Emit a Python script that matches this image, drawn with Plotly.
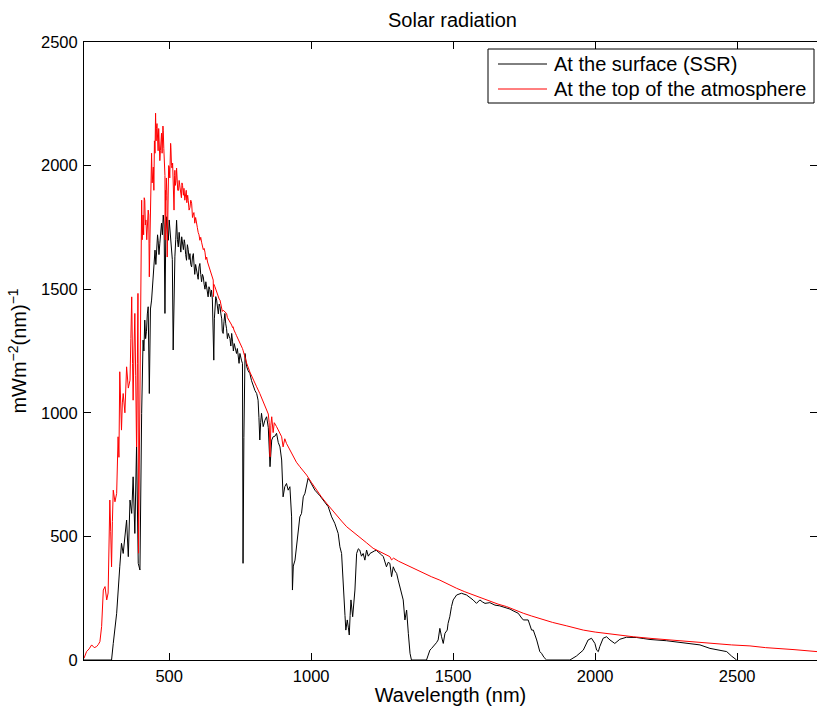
import plotly.graph_objects as go

# Surface solar radiation (SSR) spectrum, wavelength in nm
wl_surface = [200, 297, 303, 315, 326, 332, 338, 344, 350, 356, 362, 368, 373, 379, 385, 391, 397,
              403, 406, 408, 411, 414, 417, 420, 423, 426, 430, 432, 434, 438, 441, 444, 447, 450,
              453, 456, 459, 461, 464, 467, 470, 473, 476, 479, 482, 485, 488, 491, 494, 497, 500,
              502, 505, 508, 511, 514, 517, 520, 523, 526, 529, 532, 535, 538, 541, 544, 547, 550,
              553, 555, 558, 561, 564, 567, 570, 573, 576, 579, 582, 585, 588, 590, 593, 596, 599,
              602, 605, 608, 611, 614, 617, 620, 623, 626, 629, 632, 635, 637, 640, 643, 646, 649,
              652, 655, 657, 659, 661, 664, 667, 670, 673, 676, 679, 682, 685, 687, 690, 693, 696,
              699, 702, 705, 708, 711, 714, 717, 720, 723, 726, 729, 731, 734, 737, 740, 743, 746,
              749, 752, 755, 758, 760, 763, 767, 770, 773, 778, 784, 790, 796, 802, 808, 813, 816,
              819, 822, 825, 831, 837, 843, 849, 855, 858, 861, 866, 872, 878, 884, 890, 896, 901,
              907, 913, 919, 925, 931, 934, 937, 943, 949, 954, 960, 966, 972, 978, 984, 989, 995,
              1001, 1013, 1031, 1048, 1060, 1072, 1083, 1095, 1101, 1107, 1111, 1115, 1119, 1122,
              1127, 1131, 1134, 1137, 1140, 1146, 1150, 1154, 1160, 1166, 1171, 1177, 1183, 1189,
              1195, 1201, 1207, 1213, 1218, 1224, 1230, 1236, 1242, 1248, 1254, 1260, 1265, 1271,
              1277, 1283, 1289, 1295, 1301, 1307, 1312, 1318, 1324, 1330, 1336, 1342, 1348, 1353,
              1406, 1412, 1418, 1424, 1430, 1441, 1447, 1453, 1459, 1465, 1471, 1479, 1482, 1488,
              1494, 1500, 1512, 1529, 1547, 1558, 1570, 1582, 1594, 1603, 1612, 1629, 1647, 1664,
              1688, 1700, 1711, 1729, 1741, 1747, 1764, 1776, 1782, 1794, 1805, 1811, 1820, 1829,
              1911, 1934, 1958, 1975, 1987, 1999, 2005, 2011, 2016, 2028, 2040, 2052, 2069, 2087,
              2110, 2146, 2169, 2193, 2251, 2310, 2369, 2404, 2439, 2463, 2480, 2498]
ssr = [0, 0, 67, 189, 377, 472, 431, 512, 566, 418, 647, 593, 741, 512, 862, 391, 364,
       998, 1180, 1294, 1250, 1375, 1300, 1330, 1400, 1429, 1078, 1300, 1420, 1456, 1520, 1560, 1610, 1658,
       1600, 1671, 1720, 1698, 1640, 1686, 1740, 1767, 1720, 1800, 1760, 1402, 1720, 1793, 1740, 1698, 1780,
       1752, 1700, 1680, 1620, 1254, 1560, 1631, 1700, 1779, 1700, 1671, 1730, 1700, 1650, 1712, 1690, 1660,
       1700, 1686, 1640, 1617, 1680, 1660, 1620, 1644, 1600, 1590, 1630, 1644, 1590, 1560, 1600, 1577, 1550,
       1540, 1590, 1604, 1560, 1530, 1560, 1550, 1520, 1500, 1530, 1510, 1480, 1469, 1510, 1500, 1470, 1496,
       1460, 1334, 1213, 1380, 1440, 1470, 1456, 1420, 1400, 1440, 1429, 1400, 1380, 1330, 1321, 1370, 1402,
       1360, 1340, 1300, 1321, 1310, 1300, 1270, 1321, 1290, 1250, 1280, 1267, 1250, 1240, 1260, 1226, 1200,
       1240, 1220, 1210, 1200, 391, 900, 1240, 1210, 1186, 1170, 1159, 1130, 1105, 1090, 1078, 1051, 980,
       890, 960, 998, 944, 970, 984, 940, 782, 860, 890, 903, 905, 917, 880, 862, 809, 660,
       701, 714, 687, 701, 579, 283, 380, 404, 458, 512, 579, 593, 660, 674, 714, 735, 725,
       714, 687, 664, 638, 620, 579, 553, 512, 458, 431, 330, 243, 180, 121,
       162, 130, 101, 180, 243, 175, 230, 283, 431, 450, 445, 420, 431, 404,
       445, 420, 431, 436, 440, 442, 443, 438, 432, 425, 418, 395, 377, 395,
       391, 337, 377, 360, 350, 320, 297, 270, 243, 162, 202, 108, 27, 0,
       0, 20, 40, 47, 54, 70, 81, 128, 94, 67, 108, 121, 148, 175,
       216, 243, 263, 270, 263, 255, 243, 229, 243, 235, 229, 232, 222, 219,
       212, 206, 199, 189, 170, 162, 162, 121, 121, 81, 34, 27, 10, 0,
       0, 16, 40, 81, 88, 67, 40, 34, 54, 88, 94, 81, 67, 84,
       92, 91, 87, 83, 78, 70, 61, 47, 40, 34, 16, 0]

# Top-of-atmosphere spectrum, wavelength in nm
wl_toa = [200, 209, 218, 227, 236, 244, 250, 256, 262, 265, 268, 274, 280, 285, 288, 291, 294, 297,
          300, 303, 309, 315, 320, 323, 326, 329, 332, 335, 338, 344, 350, 356, 362, 365, 368, 371,
          373, 376, 379, 382, 385, 388, 390, 392, 395, 397, 400, 402, 403, 405, 408, 410, 412, 414,
          416, 418, 421, 423, 426, 428, 430, 432, 435, 438, 440, 441, 444, 446, 448, 450, 452, 454,
          455, 457, 458, 460, 461, 463, 465, 467, 469, 471, 473, 475, 476, 478, 479, 481, 482, 484,
          485, 486, 487, 488, 490, 492, 493, 495, 496, 498, 500, 502, 503, 505, 506, 508, 510, 512,
          515, 517, 519, 520, 522, 524, 526, 528, 530, 533, 535, 538, 540, 543, 545, 547, 550, 552,
          555, 557, 560, 562, 565, 567, 570, 573, 576, 579, 582, 584, 587, 590, 593, 596, 599, 602,
          605, 608, 611, 614, 617, 620, 623, 626, 629, 632, 635, 638, 641, 644, 647, 650, 653, 655,
          656, 657, 661, 664, 667, 670, 673, 676, 679, 682, 685, 687, 690, 693, 696, 699, 702, 705,
          708, 711, 714, 717, 720, 723, 725, 728, 731, 734, 737, 740, 743, 746, 749, 752, 755, 758,
          760, 763, 766, 770, 773, 784, 796, 808, 819, 831, 843, 849, 852, 855, 858, 861, 866, 870,
          878, 887, 896, 901, 907, 913, 925, 937, 948, 960, 972, 984, 1001, 1019, 1036, 1054, 1071,
          1089, 1107, 1125, 1148, 1171, 1194, 1218, 1248, 1277, 1283, 1290, 1307, 1336, 1365, 1394,
          1423, 1453, 1482, 1512, 1541, 1570, 1600, 1629, 1658, 1688, 1717, 1747, 1776, 1805, 1850,
          1900, 1958, 2000, 2050, 2100, 2134, 2200, 2250, 2310, 2400, 2480, 2545, 2600, 2700, 2781]
toa = [7, 34, 45, 61, 50, 54, 62, 74, 135, 200, 283, 297, 243, 271, 420, 647, 520, 377,
       560, 687, 640, 674, 903, 820, 1166, 1000, 930, 1040, 1078, 1000, 1186, 1100, 1132, 1300, 1469, 1200,
       1051, 1250, 1402, 1150, 862, 1200, 1483, 432, 900, 1065, 1500, 1750, 1860, 1700, 1800, 1720, 1870, 1860,
       1760, 1780, 1700, 1739, 1820, 1800, 1550, 1686, 1900, 2050, 1930, 1960, 1994, 1900, 2100, 2050, 2212, 2100,
       2150, 2170, 2143, 2080, 2060, 2150, 2103, 2020, 2060, 2120, 2131, 2050, 2080, 2160, 2143, 2070, 2040, 1990,
       1960, 1700, 1900, 1860, 1950, 1880, 1630, 1750, 1900, 2000, 1994, 1950, 2030, 2090, 2074, 2000, 1990, 2010,
       1930, 1820, 1960, 1981, 1920, 1940, 1990, 1953, 1900, 1900, 1940, 1913, 1880, 1870, 1930, 1920, 1880, 1908,
       1860, 1880, 1900, 1850, 1880, 1860, 1820, 1830, 1860, 1848, 1790, 1800, 1810, 1767, 1790, 1760, 1750, 1730,
       1720, 1698, 1710, 1690, 1670, 1660, 1665, 1650, 1620, 1630, 1610, 1600, 1590, 1580, 1570, 1560, 1545, 1537,
       1470, 1520, 1510, 1500, 1490, 1475, 1470, 1460, 1456, 1440, 1430, 1410, 1415, 1412, 1410, 1405, 1402, 1385,
       1380, 1370, 1365, 1360, 1355, 1345, 1348, 1335, 1330, 1320, 1312, 1305, 1298, 1290, 1287, 1275, 1268, 1260,
       1253, 1240, 1228, 1215, 1200, 1165, 1132, 1105, 1078, 1045, 1011, 995, 960, 822, 950, 984, 920, 960,
       944, 925, 903, 862, 895, 876, 850, 822, 800, 782, 765, 748, 718, 687, 660, 634, 610,
       586, 562, 539, 518, 499, 475, 452, 435, 418, 405, 412, 400, 384, 367, 350,
       337, 323, 306, 290, 276, 263, 249, 236, 226, 216, 202, 189, 178, 168, 152,
       138, 121, 113, 105, 98, 94, 87, 82, 76, 68, 61, 57, 50, 42, 34]

x_ticks = [500, 1000, 1500, 2000, 2500]
y_ticks = [0, 500, 1000, 1500, 2000, 2500]
series_names = ["At the surface (SSR)", "At the top of the atmosphere"]
series_colors = ["#000000", "#ff0000"]

FONT = "Liberation Sans, Arial, Helvetica, sans-serif"
W, H = 817, 706
L, R, T, B = 84, 0, 42, 46
PW, PH = W - L - R, H - T - B


def px_x(p):
    return (p - L) / PW


def px_y(p):
    return (H - B - p) / PH


fig = go.Figure()
fig.add_trace(go.Scatter(x=wl_surface, y=ssr, mode="lines", name=series_names[0],
                         line=dict(color=series_colors[0], width=1), showlegend=False))
fig.add_trace(go.Scatter(x=wl_toa, y=toa, mode="lines", name=series_names[1],
                         line=dict(color=series_colors[1], width=1), showlegend=False))

axis_common = dict(showgrid=False, zeroline=False, showline=True, linecolor="black", linewidth=1,
                   mirror="ticks", ticks="inside", ticklen=7, tickwidth=1, tickcolor="black",
                   automargin=False,
                   tickfont=dict(family=FONT, size=16.5, color="black"))

fig.update_xaxes(range=[200, 2781], tickvals=x_ticks, ticklabelstandoff=1,
                 title=dict(text="Wavelength (nm)", font=dict(family=FONT, size=20, color="black"),
                            standoff=2),
                 **axis_common)
fig.update_yaxes(range=[0, 2500], tickvals=y_ticks, ticklabelstandoff=2,
                 title=dict(text="mWm<sup>−2</sup>(nm)<sup>−1</sup>",
                            font=dict(family=FONT, size=20, color="black"), standoff=8),
                 **axis_common)

# Legend box with line samples
leg_x0, leg_x1, leg_y0, leg_y1 = 488, 814, 49, 103
row_y = [64, 89]
fig.add_shape(type="rect", xref="paper", yref="paper",
              x0=px_x(leg_x0), x1=px_x(leg_x1), y0=px_y(leg_y1), y1=px_y(leg_y0),
              line=dict(color="black", width=1), fillcolor="white", layer="above")
for name, color, yy in zip(series_names, series_colors, row_y):
    fig.add_shape(type="line", xref="paper", yref="paper",
                  x0=px_x(498), x1=px_x(547), y0=px_y(yy), y1=px_y(yy),
                  line=dict(color=color, width=1), layer="above")
    fig.add_annotation(x=px_x(552), y=px_y(yy), xref="paper", yref="paper", text=name,
                       showarrow=False, xanchor="left", yanchor="middle",
                       font=dict(family=FONT, size=20, color="black"))

fig.update_layout(
    width=W, height=H,
    margin=dict(l=L, r=R, t=T, b=B, pad=0),
    paper_bgcolor="white", plot_bgcolor="white",
    title=dict(text="Solar radiation", x=(L + PW / 2 + 2) / W, xanchor="center",
               y=1 - 20 / H, yanchor="middle", font=dict(family=FONT, size=20, color="black")),
    showlegend=False,
)

fig.write_html("out.html")
